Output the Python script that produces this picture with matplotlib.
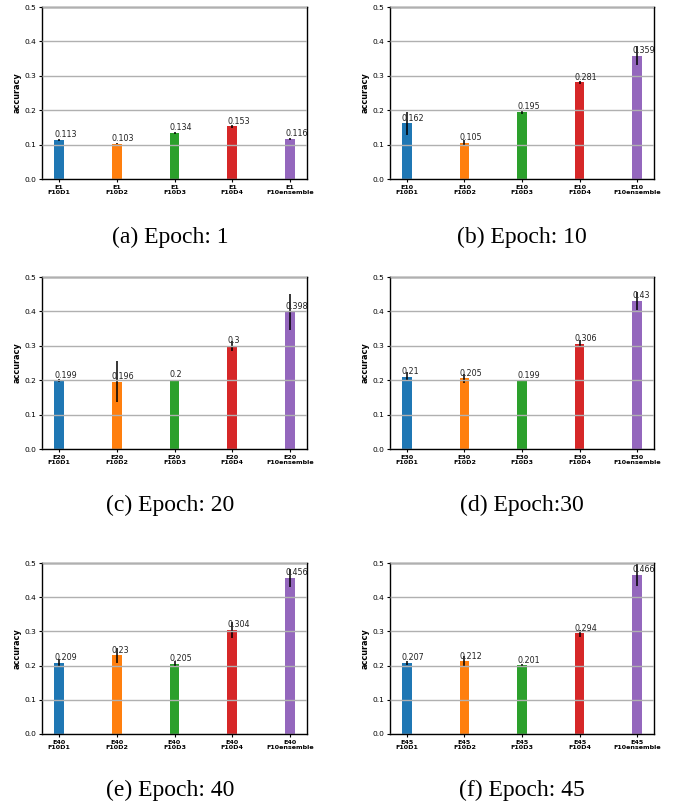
import matplotlib
matplotlib.use("Agg")
import matplotlib.pyplot as plt

epochs = [1, 10, 20, 30, 40, 45]
models = ["F10D1", "F10D2", "F10D3", "F10D4", "F10ensemble"]
captions = ["(a) Epoch: 1", "(b) Epoch: 10", "(c) Epoch: 20",
            "(d) Epoch:30", "(e) Epoch: 40", "(f) Epoch: 45"]

acc_e1 = [0.113, 0.103, 0.134, 0.153, 0.116]
acc_e10 = [0.162, 0.105, 0.195, 0.281, 0.359]
acc_e20 = [0.199, 0.196, 0.2, 0.3, 0.398]
acc_e30 = [0.21, 0.205, 0.199, 0.306, 0.43]
acc_e40 = [0.209, 0.23, 0.205, 0.304, 0.456]
acc_e45 = [0.207, 0.212, 0.201, 0.294, 0.466]

err_e1 = [0.002, 0.001, 0.003, 0.005, 0.002]
err_e10 = [0.034, 0.009, 0.005, 0.005, 0.027]
err_e20 = [0.005, 0.06, 0.002, 0.014, 0.052]
err_e30 = [0.013, 0.012, 0.001, 0.01, 0.026]
err_e40 = [0.01, 0.022, 0.007, 0.023, 0.025]
err_e45 = [0.006, 0.015, 0.005, 0.011, 0.034]

accs = [acc_e1, acc_e10, acc_e20, acc_e30, acc_e40, acc_e45]
errs = [err_e1, err_e10, err_e20, err_e30, err_e40, err_e45]
colors = ["#1f77b4", "#ff7f0e", "#2ca02c", "#d62728", "#9467bd"]

W, H = 684, 808
fig = plt.figure(figsize=(W / 100, H / 100), dpi=100)

col_lr = [(42, 307), (390, 654)]
row_tb = [(7, 179), (277, 449), (563, 734)]
cap_y = [237, 505, 790]
cap_x = [170, 522]

width = 0.17
for k in range(6):
    r, c = divmod(k, 2)
    l, rr = col_lr[c]
    t, b = row_tb[r]
    ax = fig.add_axes([l / W, 1 - b / H, (rr - l) / W, (b - t) / H])
    xs = list(range(len(models)))
    ax.bar(xs, accs[k], width=width, color=colors)
    ax.errorbar(xs, accs[k], yerr=errs[k], fmt="none", ecolor="black",
                elinewidth=1.1, capsize=0)
    for i, v in enumerate(accs[k]):
        ax.text(i - width / 2, v + 0.008, str(v), fontsize=5.8,
                ha="left", va="baseline", color="#222222")
    ax.set_ylim(0, 0.5)
    ax.set_yticks([0.0, 0.1, 0.2, 0.3, 0.4, 0.5])
    ax.set_xticks(xs)
    ax.set_xticklabels([f"E{epochs[k]}\n{m}" for m in models],
                       fontsize=4.6, fontweight="bold", linespacing=1.1)
    ax.tick_params(axis="y", labelsize=5.4, length=2.5, width=0.8, pad=1.5)
    ax.tick_params(axis="x", length=2.5, width=0.8, pad=1.5)
    ax.set_ylabel("accuracy", fontsize=5.9, fontweight="bold", labelpad=2)
    ax.set_axisbelow(False)
    ax.grid(axis="y", color="#b0b0b0", linewidth=1.0)
    for s in ax.spines.values():
        s.set_linewidth(1.0)
    fig.text(cap_x[c] / W, 1 - cap_y[r] / H, captions[k],
             family="Liberation Serif", fontsize=17, ha="center", va="center")

fig.savefig("out.png", dpi=100)
